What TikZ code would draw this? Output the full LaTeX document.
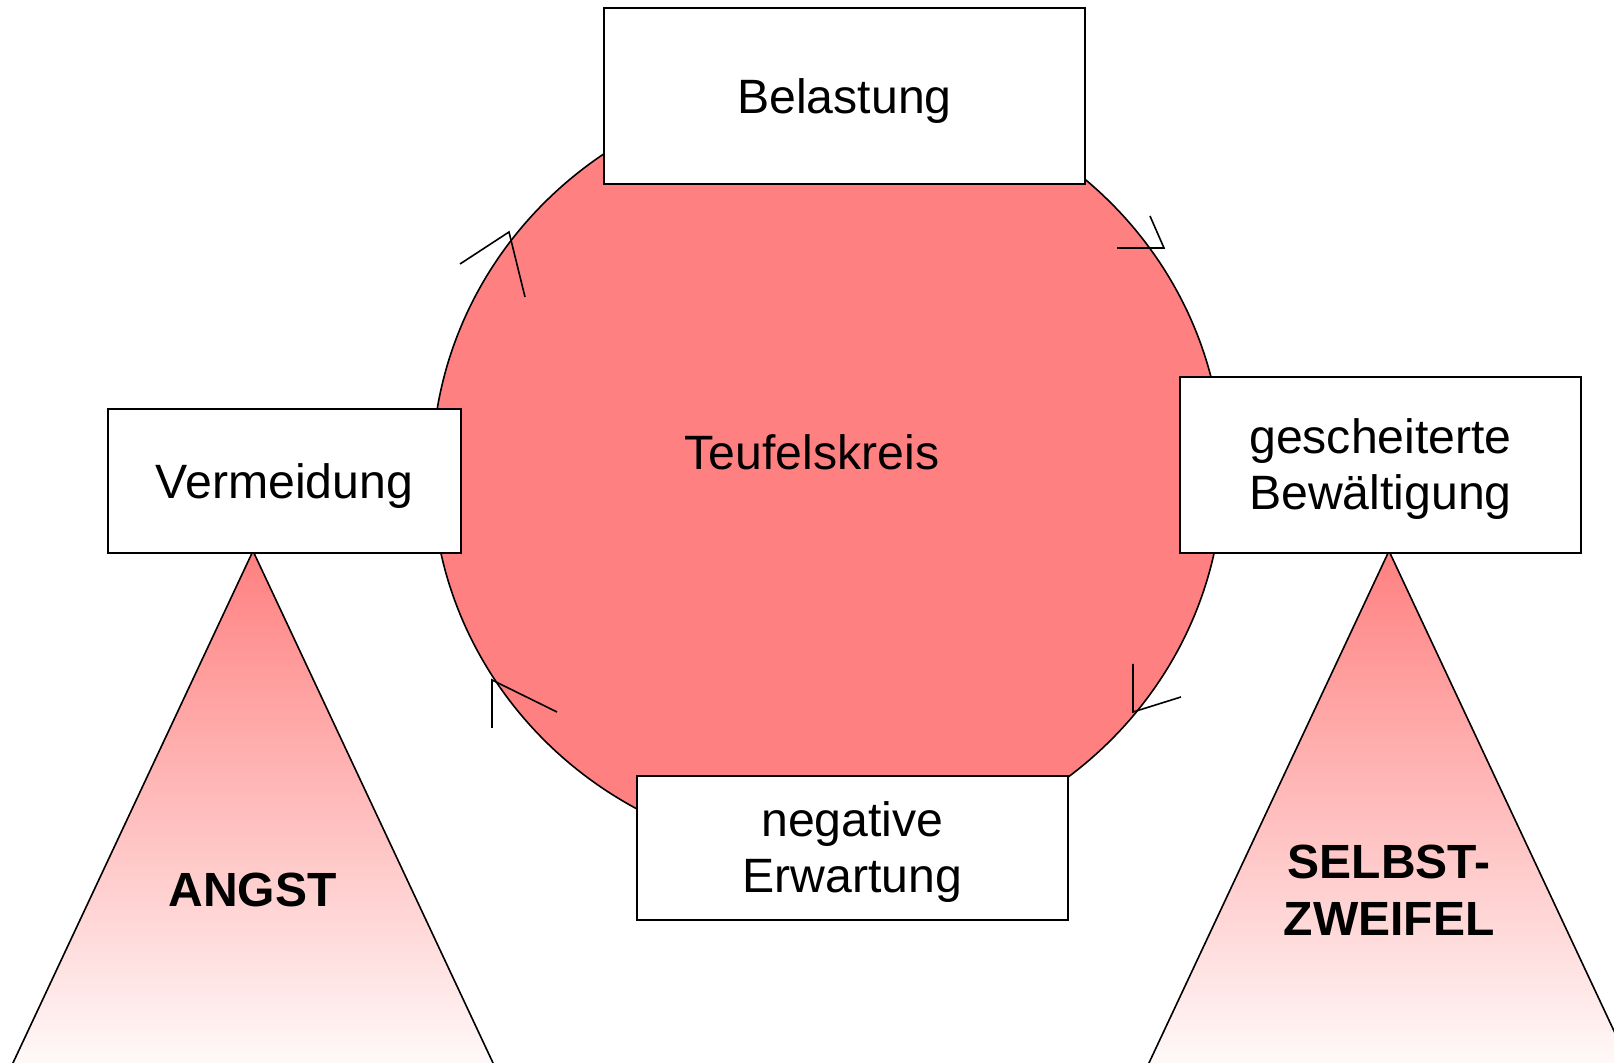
\documentclass[tikz,border=0pt]{standalone}
\usepackage{fontspec}
\setmainfont{Liberation Sans}
\definecolor{kreisrot}{HTML}{FF8080}
\tikzset{
    kasten/.style={draw, fill=white, inner sep=0pt, align=center},
    schrift/.style={font=\fontsize{24.1}{28.3}\selectfont},
    dick/.style={font=\fontsize{24}{28.5}\selectfont\bfseries, align=center},
    keil/.style={draw, top color=kreisrot, middle color=kreisrot!25, bottom color=white}
}

\begin{document}
\begin{tikzpicture}[x=0.5pt, y=-0.5pt, line width=0.8pt, schrift]

            \useasboundingbox (0,0) rectangle (1614,1063);
            \clip (0,0) rectangle (1614,1063);

            \draw[fill=kreisrot] (827.5,471.5) ellipse [x radius=395.5, y radius=385];
            \node (kreis) at (812,452) {Teufelskreis};

            \foreach \xa/\ya/\xb/\yb/\xc/\yc in {460/264/509/232/525/297, 1117/248/1164/248/1150/216, 1133/664/1133/712/1181/697, 492/728/492/680/557/712} {
                    \draw (\xa,\ya) -- (\xb,\yb) -- (\xc,\yc);
                }

            \path[keil] (253,551) -- (0.3,1090) -- (505.7,1090) -- cycle;
            \path[keil] (1389,551) -- (1136.3,1090) -- (1641.7,1090) -- cycle;

            \node[kasten, text depth=0pt, minimum width=240.5pt, minimum height=88pt] (belastung) at (844.5,96) {Belastung};
            \node[kasten, text depth=0pt, minimum width=176.5pt, minimum height=72pt] (vermeidung) at (284.5,481) {Vermeidung};
            \node[kasten, text height=49.9pt, minimum width=200.5pt, minimum height=88pt] (bewaeltigung) at (1380.5,465) {gescheiterte\\Bewältigung};
            \node[kasten, text height=49.9pt, minimum width=215.5pt, minimum height=72pt] (erwartung) at (852.5,848) {negative\\Erwartung};

            \node[dick] (angst) at (252.5,890) {ANGST};
            \node[dick] (zweifel) at (1389,890) {SELBST-\\ZWEIFEL};
        \end{tikzpicture}
\end{document}
